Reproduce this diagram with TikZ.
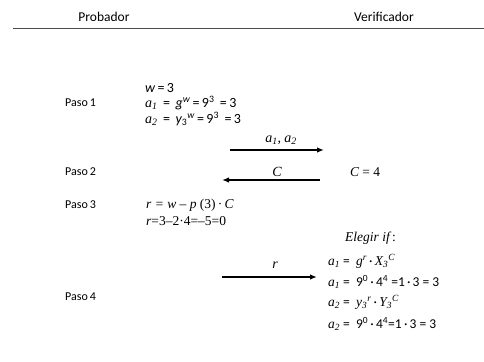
\documentclass[tikz,border=0pt]{standalone}
\usepackage{fontspec}
\setmainfont{Carlito}
\newfontfamily\serifrm{Liberation Serif}
\usetikzlibrary{arrows.meta}
\newcommand\sv[1]{{\serifrm\itshape #1}}
\newcommand\ci[1]{{\itshape #1}}
\newcommand\sbx[1]{\textsubscript{#1}}
\newcommand\spx[1]{\textsuperscript{#1}}
\newcommand\dt{\,·\,}
\begin{document}
\begin{tikzpicture}[x=1pt,y=-1pt,
  head/.style={inner sep=0pt,font=\fontsize{13.5}{16}\selectfont},
  paso/.style={anchor=west,inner sep=0pt,font=\fontsize{12}{14}\selectfont},
  txt/.style={anchor=west,inner sep=0pt,font=\fontsize{13.5}{15}\selectfont},
  big/.style={anchor=west,inner sep=0pt,font=\fontsize{14}{16}\selectfont},
  lbl/.style={inner sep=0pt,font=\fontsize{14}{16}\selectfont},
  msg/.style={line width=1.5pt,-{Latex[length=7pt,width=5.5pt]}}]
\useasboundingbox (0,0) rectangle (484,361);
\fill[white] (0,0) rectangle (484,361);
% header
\node[head] (prob) at (104,17) {Probador};
\node[head] (ver) at (384,17) {Verificador};
\coordinate (hl) at (13,28);
\coordinate (hr) at (484,28);
\draw[line width=0.9pt, black!70] (hl) -- (hr);
% step labels
\node[paso] (p1) at (65,103) {Paso\,1};
\node[paso] (p2) at (65,172) {Paso\,2};
\node[paso] (p3) at (65,205) {Paso\,3};
\node[paso] (p4) at (65,297) {Paso\,4};
% step 1
\node[big] (w) at (145,88) {\ci{w}\,=\,3};
\node[big] (a1) at (145,103) {\sv{a}\sbx{\sv{1}} \,=\, \ci{g}\spx{\ci{w}}\,=\,9\spx{3}\ \,=\,3};
\node[big] (a2) at (145,119) {\sv{a}\sbx{\sv{2}} \,=\, \ci{y}\sbx{3}\spx{\ci{w}}\,=\,9\spx{3}\ \,=\,3};
% message a1,a2
\coordinate (m1s) at (230,150);
\coordinate (m1e) at (324,150);
\draw[msg] (m1s) -- (m1e);
\node[lbl] (m1l) at (281,140) {\sv{a}\sbx{\sv{1}}\sv{,} \sv{a}\sbx{\sv{2}}};
% step 2
\coordinate (m2s) at (320,180);
\coordinate (m2e) at (222,180);
\draw[msg] (m2s) -- (m2e);
\node[lbl] (m2l) at (277,172) {\sv{C}};
\node[txt] (c4) at (350,172) {{\serifrm\itshape C} {\serifrm = 4}};
% step 3
\node[txt] (r1) at (146,205) {{\serifrm\itshape r = w – p }{\serifrm(3)\dt}\sv{C}};
\node[txt] (r2) at (146,221) {{\serifrm\itshape r}{\serifrm=3–2·4=–5=0}};
% step 4
\node[txt] (el) at (345,238) {\sv{Elegir if}{\serifrm\,:}};
\coordinate (m3s) at (222,277);
\coordinate (m3e) at (317,277);
\draw[msg] (m3s) -- (m3e);
\node[lbl] (m3l) at (275,265) {\sv{r}};
\node[txt] (v1) at (328,261) {\sv{a}\sbx{\sv{1}} = \ \sv{g}\spx{\sv{r}}\dt\sv{X}\sbx{\sv{3}}\spx{\sv{C}}};
\node[txt] (v2) at (328,282) {\sv{a}\sbx{\sv{1}} = \ 9\spx{0}\dt4\spx{4} =1\dt3 = 3};
\node[txt] (v3) at (328,302) {\sv{a}\sbx{\sv{2}} = \ \sv{y}\sbx{\sv{3}}\spx{\sv{r}}\dt\sv{Y}\sbx{\sv{3}}\spx{\sv{C}}};
\node[txt] (v4) at (328,324) {\sv{a}\sbx{\sv{2}} = \ 9\spx{0}\dt4\spx{4}=1\dt3 = 3};
\end{tikzpicture}
\end{document}
